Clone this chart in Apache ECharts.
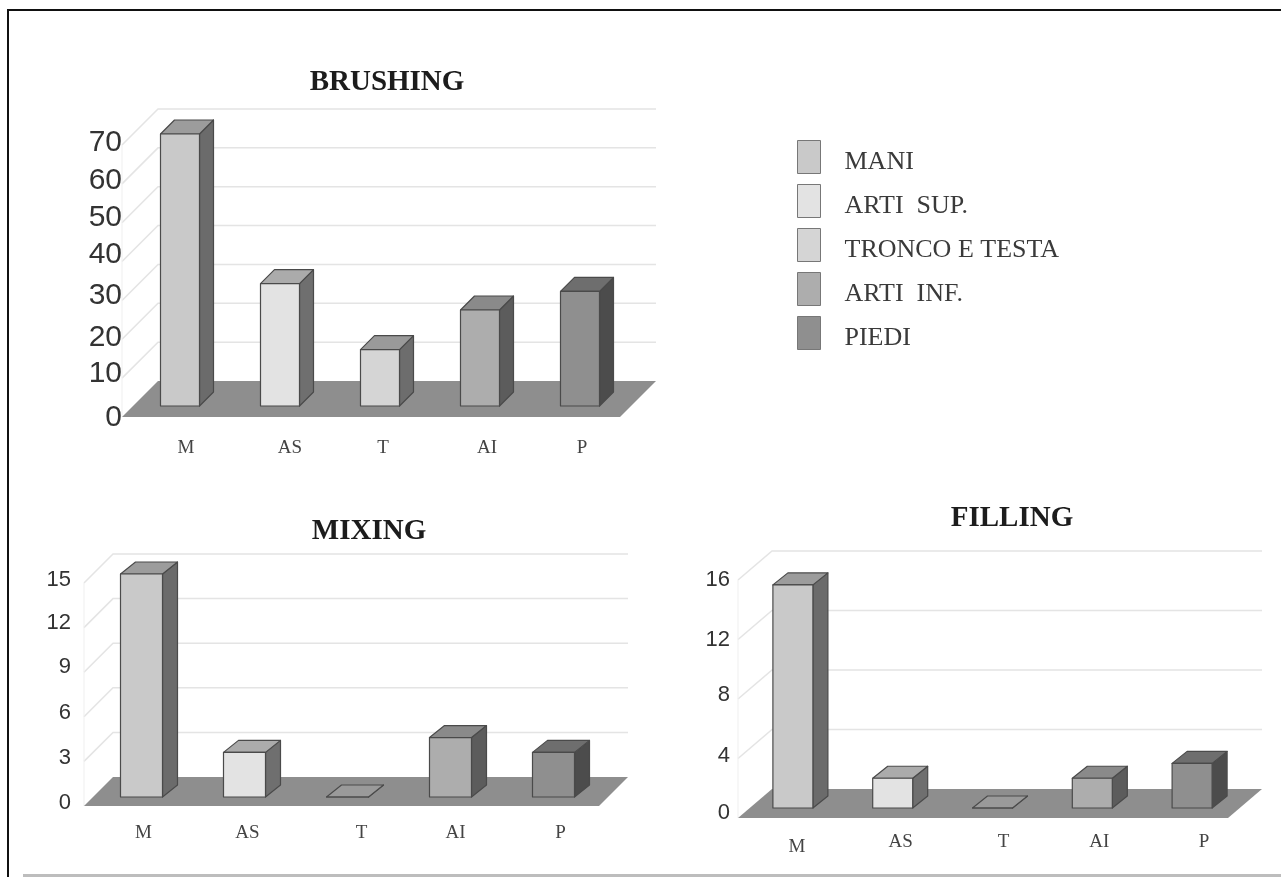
<!DOCTYPE html>
<html>
<head>
<meta charset="utf-8">
<style>
  html, body { margin: 0; padding: 0; background: #fff; }
  #chart { width: 1281px; height: 877px; }
</style>
<script src="https://cdn.jsdelivr.net/npm/echarts@6/dist/echarts.min.js"></script>
</head>
<body>
<div id="chart"></div>
<script>
// Exposure by body region, three tasks
const categories = ['M', 'AS', 'T', 'AI', 'P'];
const partNames = ['MANI', 'ARTI  SUP.', 'TRONCO E TESTA', 'ARTI  INF.', 'PIEDI'];
const brushingValues = [70, 31.5, 14.5, 24.7, 29.5];
const mixingValues = [15, 3, 0, 4, 3];
const fillingValues = [15, 2, 0, 2, 3];

// Shades per body region: front face, top face, side face
const frontColors = ['#c9c9c9', '#e3e3e3', '#d5d5d5', '#adadad', '#8f8f8f'];
const topColors = ['#9c9c9c', '#ababab', '#9a9a9a', '#8a8a8a', '#6e6e6e'];
const sideColors = ['#6b6b6b', '#6f6f6f', '#6d6d6d', '#5c5c5c', '#4c4c4c'];

const panels = [
  { title: 'BRUSHING', titleX: 387, titleY: 63, values: brushingValues,
    left: 122, top: 145, width: 500, height: 272, max: 70, step: 10,
    depthX: 36, depthY: 36, floorTrim: 2, barInset: 11, barShift: -3, barWidth: 39, barDepthX: 14, barDepthY: 14,
    tickFont: 30, tickMargin: 0, tickLift: [-1, 4, 2, 5, 7, 5, 3, 2], catMargin: 22,
    catNudge: [14, 18, 11, 15, 10], catDrop: [0, 0, 0, 0, 0] },
  { title: 'MIXING', titleX: 369, titleY: 512, values: mixingValues,
    left: 84, top: 583, width: 515, height: 223, max: 15, step: 3,
    depthX: 29, depthY: 29, floorTrim: 0, barInset: 9, barShift: -3, barWidth: 42, barDepthX: 15, barDepthY: 12,
    tickFont: 22, tickMargin: 13, tickLift: [3, 3, 4, 5, 5, 3], catMargin: 18,
    catNudge: [8, 9, 20, 11, 13], catDrop: [0, 0, 0, 0, 0] },
  { title: 'FILLING', titleX: 1012, titleY: 499, values: fillingValues,
    left: 738, top: 580, width: 499, height: 238, max: 16, step: 4,
    depthX: 34, depthY: 29, floorTrim: 9, barInset: 10, barShift: -5, barWidth: 40, barDepthX: 15, barDepthY: 12,
    tickFont: 22, tickMargin: 8, tickLift: [5, 3, 4, 0, 0], catMargin: 15,
    catNudge: [9, 13, 16, 12, 17], catDrop: [5, 0, 0, 0, 0] }
];

// Floor and back wall of one panel, drawn from the panel's own value scale
function stageRenderer(panel) {
  return function (params, api) {
    const sys = params.coordSys;
    const dx = panel.depthX;
    const dy = panel.depthY;
    const x0 = sys.x;
    const x1 = sys.x + sys.width - panel.floorTrim;
    const children = [];
    const gridLine = { stroke: '#e4e4e4', lineWidth: 1.5 };
    for (let v = panel.step; v <= panel.max; v += panel.step) {
      const y = api.coord([0, v])[1];
      children.push({ type: 'polyline', shape: { points: [[x0, y], [x0 + dx, y - dy], [x1 + dx, y - dy]] }, style: { fill: null, ...gridLine } });
    }
    const yBase = api.coord([0, 0])[1];
    const yTop = api.coord([0, panel.max])[1];
    children.push({ type: 'line', shape: { x1: x0, y1: yBase, x2: x0, y2: yTop }, style: { stroke: '#efefef', lineWidth: 1 } });
    children.push({ type: 'polygon', shape: { points: [[x0, yBase], [x0 + dx, yBase - dy], [x1 + dx, yBase - dy], [x1, yBase]] }, style: { fill: '#8e8e8e' } });
    return { type: 'group', children };
  };
}

// One oblique bar: front, side and top faces
function barRenderer(panel, partIndex) {
  return function (params, api) {
    const top = api.coord([api.value(0), api.value(1)]);
    const base = api.coord([api.value(0), 0]);
    const cx = top[0] + panel.barInset + panel.barShift;
    const xl = cx - panel.barWidth / 2;
    const xr = cx + panel.barWidth / 2;
    const yt = top[1] - panel.barInset;
    const yb = base[1] - panel.barInset;
    const dx = panel.barDepthX;
    const dy = panel.barDepthY;
    const outline = { stroke: '#4a4a4a', lineWidth: 1.2, lineJoin: 'round' };
    return {
      type: 'group',
      children: [
        { type: 'polygon', shape: { points: [[xr, yt], [xr + dx, yt - dy], [xr + dx, yb - dy], [xr, yb]] }, style: { fill: sideColors[partIndex], ...outline } },
        { type: 'polygon', shape: { points: [[xl, yt], [xl + dx, yt - dy], [xr + dx, yt - dy], [xr, yt]] }, style: { fill: topColors[partIndex], ...outline } },
        { type: 'rect', shape: { x: xl, y: yt, width: xr - xl, height: yb - yt }, style: { fill: frontColors[partIndex], ...outline } }
      ]
    };
  };
}

function categoryRich(panel) {
  const rich = {};
  categories.forEach((c, i) => {
    rich['c' + i] = {
      fontFamily: 'Liberation Serif', fontSize: 19, color: '#444',
      padding: [panel.catDrop[i], 0, 0, panel.catNudge[i] * 2]
    };
  });
  return rich;
}

function tickRich(panel) {
  const rich = {};
  panel.tickLift.forEach((lift, i) => {
    rich['t' + i] = {
      fontFamily: 'Liberation Sans', fontSize: panel.tickFont, color: '#333',
      padding: [Math.max(-lift, 0) * 2, 0, Math.max(lift, 0) * 2, 0]
    };
  });
  return rich;
}

const series = [];
panels.forEach((panel, p) => {
  series.push({
    type: 'custom', name: panel.title + ' stage', xAxisIndex: p, yAxisIndex: p, z: 1,
    silent: true, clip: false, data: [[0, 0]], encode: { x: 0, y: 1 },
    renderItem: stageRenderer(panel)
  });
  panel.values.forEach((value, i) => {
    series.push({
      type: 'custom', name: partNames[i], xAxisIndex: p, yAxisIndex: p, z: 2,
      clip: false, data: [[i, value]], encode: { x: 0, y: 1 },
      itemStyle: { color: frontColors[i] },
      renderItem: barRenderer(panel, i)
    });
  });
});

const option = {
  animation: false,
  backgroundColor: '#fff',
  title: panels.map(panel => ({
    text: panel.title, left: panel.titleX - 5, top: panel.titleY, textAlign: 'center',
    textStyle: { fontFamily: 'Liberation Serif', fontWeight: 'bold', fontSize: 29, color: '#1c1c1c' }
  })),
  legend: {
    orient: 'vertical', left: 797, top: 140, padding: 0, icon: 'rect',
    itemWidth: 23, itemHeight: 33, itemGap: 9, selectedMode: false,
    data: partNames.map((name, i) => ({ name, itemStyle: { color: frontColors[i], borderColor: '#777', borderWidth: 1 } })),
    formatter: name => `{part|${name}}`,
    textStyle: {
      rich: { part: { fontFamily: 'Liberation Serif', fontSize: 26, color: '#3a3a3a', padding: [10, 0, 0, 19] } }
    }
  },
  grid: panels.map(panel => ({
    left: panel.left, top: panel.top, width: panel.width, height: panel.height,
    containLabel: false, outerBoundsMode: 'none'
  })),
  xAxis: panels.map((panel, p) => ({
    type: 'category', gridIndex: p, data: categories,
    axisLine: { show: false }, axisTick: { show: false }, splitLine: { show: false },
    axisLabel: {
      margin: panel.catMargin, interval: 0,
      formatter: (v, i) => `{c${i}|${v}}`,
      rich: categoryRich(panel)
    }
  })),
  yAxis: panels.map((panel, p) => ({
    type: 'value', gridIndex: p, min: 0, max: panel.max, interval: panel.step,
    axisLine: { show: false }, axisTick: { show: false }, splitLine: { show: false },
    axisLabel: {
      margin: panel.tickMargin,
      formatter: (v, i) => `{t${i}|${v}}`,
      rich: tickRich(panel)
    }
  })),
  // Page frame: black rule on top and left, grey rule along the bottom
  graphic: [
    { type: 'rect', shape: { x: 7, y: 9, width: 1274, height: 2 }, style: { fill: '#111' } },
    { type: 'rect', shape: { x: 7, y: 9, width: 2, height: 868 }, style: { fill: '#111' } },
    { type: 'rect', shape: { x: 23, y: 874, width: 1258, height: 3 }, style: { fill: '#bdbdbd' } }
  ],
  series
};

echarts.init(document.getElementById('chart'), null, { renderer: 'canvas' }).setOption(option);
</script>
</body>
</html>
